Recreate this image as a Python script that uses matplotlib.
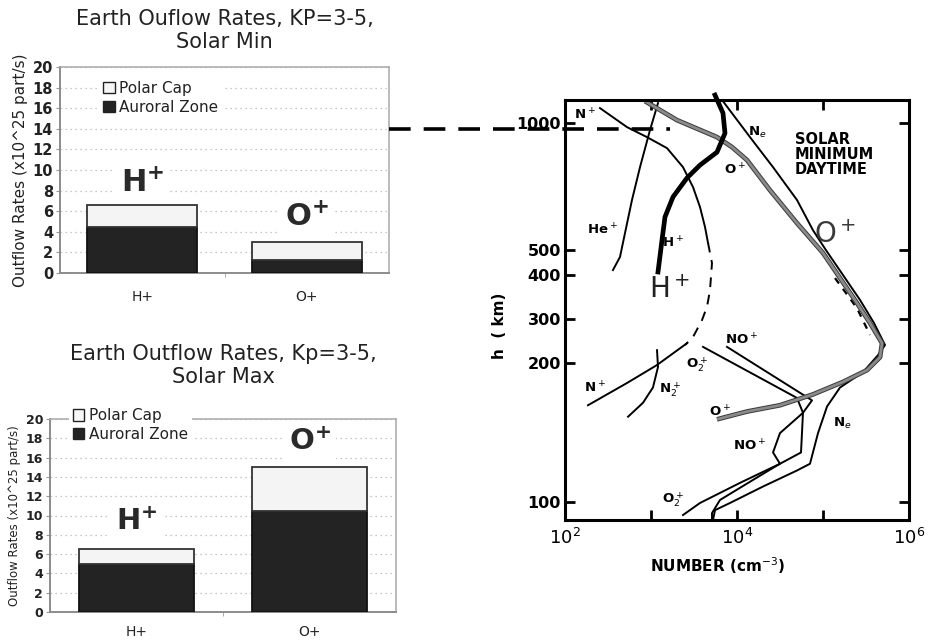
import matplotlib.pyplot as plt
import numpy as np
from matplotlib.lines import Line2D
from matplotlib.patches import Patch
from matplotlib.ticker import NullLocator
from matplotlib.transforms import blended_transform_factory

# ---- outflow rates (x10^25 particles/s), Kp = 3-5
species = ["H+", "O+"]
solar_min_auroral = [4.5, 1.3]
solar_min_polar = [2.1, 1.7]
solar_max_auroral = [5.0, 10.5]
solar_max_polar = [1.5, 4.5]
rate_ticks = list(range(0, 21, 2))
rate_at_1000km = 14

# ---- ionosphere profiles, solar minimum daytime (density cm^-3, altitude km)
nplus_n = [255, 526, 898, 1535, 2356, 3079, 3715, 4246, 4601]
nplus_h = [1085, 978, 926, 872, 786, 705, 632, 567, 520]
nplus_dash_n = [4601, 5118, 4853, 4479, 3918, 3079, 2485]
nplus_dash_h = [520, 445, 362, 325, 297, 254, 236]
nplus_low_n = [2622, 1175, 526, 185]
nplus_low_h = [240, 198, 181, 162]

heplus_n = [1206, 973, 745, 601, 499, 436, 361]
heplus_h = [1115, 962, 786, 657, 549, 470, 418]

hplus_n = [5549, 6870, 7250, 5854, 3715, 2622, 1803, 1455, 1343, 1206]
hplus_h = [1165, 1056, 946, 853, 795, 741, 668, 599, 528, 411]

oplus_n = [851, 2006, 5854, 8750, 13070, 24180, 49840, 100000, 248500, 352000,
           486000, 460500, 325000, 171000, 76500, 31620, 13070, 5854]
oplus_h = [1127, 1016, 926, 877, 817, 693, 579, 487, 333, 289,
           240, 211, 193, 182, 171, 162, 157, 151]
oplus_dash_n = [138000, 248500, 352000]
oplus_dash_h = [392, 322, 259]

ne_n = [6700, 14160, 26230, 49840, 76500, 108000, 269000, 392000, 526000, 436000,
        291700, 157800, 111400, 87500, 70600, 49840, 20050, 8290, 5549, 5260]
ne_h = [1134, 926, 786, 657, 557, 500, 340, 289, 236, 215,
        191, 177, 161, 141, 121, 117, 108, 99.5, 96, 91.4]

o2plus_n = [4027, 49840, 58500, 31620, 26230, 31620, 10840, 3715, 2356]
o2plus_h = [232, 168, 156, 141, 128, 121, 110, 99.5, 93.7]

noplus_n = [7650, 74500, 58500, 55500, 31620, 18500, 6340, 5118, 5118]
noplus_h = [232, 166, 156, 128, 121, 114, 101, 94.6, 91.4]

n2plus_n = [1175, 1206, 1054, 807, 541]
n2plus_h = [225, 196, 177, 164, 153]

alt_ticks = [100, 200, 300, 400, 500, 1000]
density_ticks = [1e2, 1e3, 1e4, 1e5, 1e6]
density_labels = [r"$10^2$", "", r"$10^4$", "", r"$10^6$"]

# the altitude axis of the scanned figure is hand drawn: log-like but uneven
LOG_KNOTS = [np.log10(50), 2.0, np.log10(200), np.log10(300), np.log10(400),
             np.log10(500), 3.0, np.log10(2000)]
POS_KNOTS = [-121, 18, 157, 201, 245, 270, 397, 524]


def alt_forward(h):
    h = np.clip(np.asarray(h, dtype=float), 1e-3, None)
    return np.interp(np.log10(h), LOG_KNOTS, POS_KNOTS)


def alt_inverse(p):
    return 10 ** np.interp(np.asarray(p, dtype=float), POS_KNOTS, LOG_KNOTS)


def draw_rates(ax, auroral, polar, title, title_pad, ylabel_size, tick_size,
               legend_anchor, label_y, label_size, xpad):
    x = np.arange(len(species))
    ax.bar(x, auroral, width=0.67, color="#232323", edgecolor="#111111",
           linewidth=1.3, zorder=3)
    ax.bar(x, polar, bottom=auroral, width=0.67, color="#f4f4f4",
           edgecolor="#333333", linewidth=1.3, zorder=3)

    ax.set_xlim(-0.5, 1.5)
    ax.set_ylim(0, 20)
    ax.set_yticks(rate_ticks)
    ax.set_xticks(x)
    ax.set_xticklabels(species, fontsize=10, color="#222222")
    ax.set_xticks([0.5], minor=True)
    ax.tick_params(axis="x", which="major", length=0, pad=xpad)
    ax.tick_params(axis="x", which="minor", length=3, color="#999999")
    ax.tick_params(axis="y", length=3, color="#999999", labelsize=tick_size,
                   labelcolor="#222222", pad=2)
    for lab in ax.get_yticklabels():
        lab.set_fontweight("bold")
    ax.grid(axis="y", linestyle=(0, (1, 3)), color="#b5b5b5", linewidth=0.9, zorder=0)
    ax.set_axisbelow(True)
    for side in ["left", "bottom"]:
        ax.spines[side].set_color("#8c8c8c")
        ax.spines[side].set_linewidth(1.4)
    for side in ["top", "right"]:
        ax.spines[side].set_color("#a8a8a8")
        ax.spines[side].set_linewidth(1.1)

    ax.set_ylabel("Outflow Rates (x10^25 part/s)", fontsize=ylabel_size,
                  color="#222222", labelpad=3)
    ax.set_title(title, fontsize=15, pad=title_pad, color="#222222", linespacing=1.15)

    handles = [Patch(facecolor="#f7f7f7", edgecolor="#222222", linewidth=1.0),
               Patch(facecolor="#232323", edgecolor="#222222", linewidth=1.0)]
    leg = ax.legend(handles, ["Polar Cap", "Auroral Zone"], loc="upper left",
                    bbox_to_anchor=legend_anchor, fontsize=11, frameon=True,
                    fancybox=False, facecolor="white", edgecolor="none",
                    framealpha=1, handlelength=0.75, handleheight=0.75,
                    handletextpad=0.3, labelspacing=0.25, borderpad=0.25,
                    borderaxespad=0)
    for t in leg.get_texts():
        t.set_color("#222222")

    for xi, yi in zip(x, label_y):
        name = species[xi][0]
        ax.text(xi, yi, r"$\mathbf{%s^{+}}$" % name, ha="center", va="center",
                fontsize=label_size, color="#2a2a2a", zorder=5,
                bbox=dict(facecolor="white", edgecolor="none", pad=4))


fig = plt.figure(figsize=(9.33, 6.42), dpi=100)

ax1 = fig.add_axes([60 / 933, 1 - 273 / 642, 329 / 933, 206 / 642])
draw_rates(ax1, solar_min_auroral, solar_min_polar,
           "Earth Ouflow Rates, KP=3-5,\nSolar Min", 14, 11, 10.5,
           (0.12, 0.95), [8.7, 5.4], 22, 12)

ax2 = fig.add_axes([50 / 933, 1 - 612 / 642, 346 / 933, 193 / 642])
draw_rates(ax2, solar_max_auroral, solar_max_polar,
           "Earth Outflow Rates, Kp=3-5,\nSolar Max", 26, 8.5, 9,
           (0.055, 1.075), [9.3, 17.6], 21, 9)

# dashed link: 14 x10^25 part/s marks the 1000 km level of the profile panel
link = Line2D([1.0, 1.855], [rate_at_1000km, rate_at_1000km],
              transform=blended_transform_factory(ax1.transAxes, ax1.transData),
              color="black", linewidth=2.6, dashes=(6, 3.6), dash_capstyle="butt")
fig.add_artist(link)

# ---- right panel: ion density profiles
ax3 = fig.add_axes([565 / 933, 1 - 520 / 642, 344 / 933, 420 / 642])
ax3.set_xscale("log")
ax3.set_yscale("function", functions=(alt_forward, alt_inverse))

thin = dict(color="black", linewidth=1.4)
ax3.plot(nplus_n, nplus_h, **thin)
ax3.plot(nplus_dash_n, nplus_dash_h, color="black", linewidth=1.4, dashes=(5, 4))
ax3.plot(nplus_low_n, nplus_low_h, **thin)
ax3.plot(heplus_n, heplus_h, **thin)
ax3.plot(n2plus_n, n2plus_h, **thin)
ax3.plot(o2plus_n, o2plus_h, **thin)
ax3.plot(noplus_n, noplus_h, **thin)
ax3.plot(ne_n, ne_h, **thin)
ax3.plot(oplus_dash_n, oplus_dash_h, color="black", linewidth=1.6, dashes=(3, 3))
ax3.plot(oplus_n, oplus_h, color="#3a3a3a", linewidth=3.4, solid_capstyle="butt")
ax3.plot(oplus_n, oplus_h, color="#8a8a8a", linewidth=2.0, solid_capstyle="butt")
ax3.plot(hplus_n, hplus_h, color="black", linewidth=3.4, clip_on=False)

ax3.set_xlim(1e2, 1e6)
ax3.set_ylim(91.4, 1134)
ax3.set_xticks(density_ticks)
ax3.set_xticklabels(density_labels)
ax3.xaxis.set_minor_locator(NullLocator())
ax3.set_yticks(alt_ticks)
ax3.set_yticklabels([str(v) for v in alt_ticks])
ax3.yaxis.set_minor_locator(NullLocator())
ax3.tick_params(axis="both", direction="in", width=2, length=7,
                top=True, right=True, colors="black")
ax3.tick_params(axis="x", labelsize=13, pad=6)
ax3.tick_params(axis="y", labelsize=11.5, pad=3)
for lab in ax3.get_yticklabels():
    lab.set_fontweight("bold")
for sp in ax3.spines.values():
    sp.set_linewidth(2.2)
    sp.set_color("black")

ax3.set_xlabel(r"NUMBER (cm$^{-3}$)", fontsize=11, fontweight="bold")
ax3.xaxis.set_label_coords(0.445, -0.085)
ax3.set_ylabel("h  ( km)", fontsize=11, fontweight="bold")
ax3.yaxis.set_label_coords(-0.17, 0.462)

small_labels = [
    (171, 1045, r"N$^+$"),
    (17100, 952, r"N$_e$"),
    (9480, 774, r"O$^+$"),
    (270, 557, r"He$^+$"),
    (1803, 520, r"H$^+$"),
    (11430, 247, r"NO$^+$"),
    (3428, 198, r"O$_2^+$"),
    (223, 177, r"N$^+$"),
    (1664, 175, r"N$_2^+$"),
    (6340, 157, r"O$^+$"),
    (14160, 132, r"NO$^+$"),
    (166000, 148, r"N$_e$"),
    (1803, 101, r"O$_2^+$"),
]
for n, h, txt in small_labels:
    ax3.text(n, h, txt, ha="center", va="center", fontsize=9.5, fontweight="bold")

ax3.text(138000, 542, r"O$^+$", ha="center", va="center", fontsize=20, color="#3a3a3a")
ax3.text(1664, 362, r"H$^+$", ha="center", va="center", fontsize=20, color="#222222")
ax3.text(47200, 952, "SOLAR\nMINIMUM\nDAYTIME", ha="left", va="top",
         fontsize=10.5, fontweight="bold", linespacing=1.0)

fig.savefig("out.png", dpi=100)
